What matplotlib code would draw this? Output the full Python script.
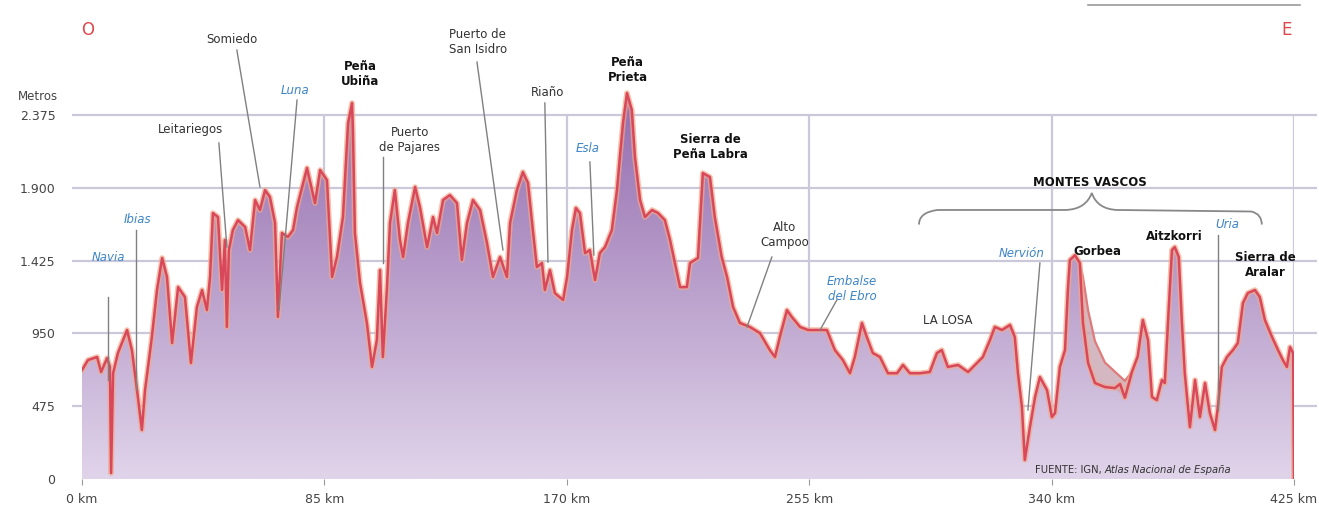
import numpy as np
import matplotlib.pyplot as plt
from matplotlib.patches import Polygon, PathPatch
from matplotlib.path import Path
from matplotlib.lines import Line2D

plt.rcParams['font.family'] = ['DejaVu Sans']

# perfil: distancia (km) y altitud (m)
km = [0, 2.1, 5.3, 6.7, 8.8, 9.8, 10.2, 10.9, 12.6, 15.8, 17.5, 19.3, 21.0, 22.1,
      24.5, 26.3, 28.1, 29.8, 31.6, 33.7, 36.1, 38.2, 40.3, 42.1, 43.8, 44.9, 45.9,
      47.7, 49.1, 50.1, 50.8, 51.5, 52.9, 54.7, 57.2, 58.9, 60.7, 62.4, 64.2, 65.9,
      67.7, 68.7, 70.1, 72.2, 74.0, 75.4, 78.9, 81.7, 83.5, 85.9, 87.7, 89.4, 91.5,
      93.3, 94.7, 95.0, 95.7, 97.5, 99.9, 101.7, 103.4, 104.5, 105.5, 106.9, 108.0,
      109.7, 111.5, 112.6, 114.3, 116.8, 118.5, 121.0, 123.1, 124.5, 126.6, 129.0,
      131.5, 133.2, 135.0, 137.1, 139.6, 142.0, 144.1, 146.6, 149.0, 150.1, 152.5,
      154.6, 156.4, 158.1, 159.5, 161.3, 162.3, 164.1, 165.8, 168.7, 170.1, 171.8,
      173.2, 174.6, 176.4, 178.1, 179.9, 181.6, 183.4, 185.8, 187.6, 188.6, 189.7,
      191.1, 192.8, 193.9, 195.7, 197.4, 199.9, 202.0, 204.4, 206.2, 207.9, 209.7,
      212.1, 213.2, 216.0, 217.7, 220.2, 221.9, 224.3, 226.2, 228.3, 230.7, 234.2,
      237.7, 241.2, 243.0, 244.7, 247.2, 248.9, 251.8, 254.6, 258.8, 261.2, 264.0,
      266.8, 269.3, 271.0, 273.5, 275.2, 277.3, 279.8, 282.6, 285.8, 287.9, 290.3,
      293.8, 297.3, 299.8, 301.5, 303.6, 307.2, 310.7, 313.8, 315.9, 318.4, 320.1,
      322.6, 325.4, 327.1, 328.2, 329.6, 330.6, 332.4, 334.2, 335.9, 338.4, 340.1,
      341.2, 342.9, 344.7, 345.7, 346.4, 348.2, 349.9, 351.0, 352.8, 355.2, 358.7,
      362.2, 364.0, 365.7, 368.2, 370.2, 372.0, 373.8, 375.2, 376.9, 378.7, 379.7,
      380.8, 382.2, 383.2, 384.6, 385.7, 386.7, 388.5, 390.3, 392.0, 393.8, 395.5,
      397.3, 398.3, 399.7, 401.5, 403.6, 405.3, 407.1, 408.8, 411.3, 413.0, 414.8,
      417.3, 419.4, 421.1, 422.5, 423.6, 424.7, 425.0]
alt = [711, 776, 796, 698, 789, 731, 39, 690, 822, 972, 841, 580, 320, 580,
       926, 1233, 1442, 1318, 887, 1252, 1187, 757, 1122, 1233, 1102, 1318, 1735,
       1709, 1233, 1559, 992, 1494, 1624, 1689, 1644, 1494, 1820, 1755, 1885, 1840,
       1670, 1057, 1605, 1579, 1624, 1774, 2029, 1800, 2016, 1950, 1318, 1448, 1709,
       2322, 2453, 2277, 1605, 1278, 1018, 731, 907, 1363, 796, 1233, 1670,
       1885, 1559, 1448, 1670, 1905, 1774, 1513, 1709, 1605, 1820, 1852,
       1800, 1429, 1670, 1820, 1755, 1540, 1318, 1448, 1318, 1670, 1885,
       2003, 1931, 1624, 1383, 1409, 1233, 1363, 1213, 1168, 1318, 1624,
       1768, 1735, 1474, 1494, 1298, 1474, 1513, 1624, 1885, 2100, 2322,
       2518, 2407, 2100, 1820, 1709, 1755, 1735, 1689, 1559, 1409, 1252,
       1252, 1409, 1442, 1996, 1970, 1709, 1450, 1318, 1122, 1018, 992,
       952, 841, 796, 926, 1102, 1057, 992, 972, 972, 972, 841,
       776, 690, 796, 1018, 926, 822, 796, 690, 690, 744, 690,
       690, 698, 822, 841, 731, 744, 698, 757, 796, 907, 992,
       972, 1005, 926, 690, 470, 124, 339, 535, 665, 580, 404,
       430, 731, 841, 1233, 1429, 1460, 1409, 1018, 757, 626, 600,
       593, 620, 530, 700, 800, 1037, 907, 535, 515, 646, 626,
       1018, 1494, 1513, 1448, 1018, 690, 339, 646, 404, 626, 430,
       320, 470, 731, 796, 841, 887, 1148, 1213, 1233, 1187, 1037,
       926, 841, 776, 731, 861, 822, 0]

# segunda línea (Gorbea)
km_gorbea = [349.9, 351.0, 352.8, 355.2, 358.7, 362.2, 365.7, 368.2]
alt_gorbea = [1409, 1318, 1100, 900, 760, 700, 640, 700]

ytick_vals = [0, 475, 950, 1425, 1900, 2375]
ytick_labels = ['0', '475', '950', '1.425', '1.900', '2.375']
xtick_vals = [0, 85, 170, 255, 340, 425]
xtick_labels = ['0 km', '85 km', '170 km', '255 km', '340 km', '425 km']

fig = plt.figure(figsize=(13.19, 5.08), dpi=100)
ax = fig.add_axes([82 / 1319, 29 / 508, 1212 / 1319, 475.2 / 508])
ax.set_xlim(0, 425)
ax.set_ylim(0, 3100)
for s in ax.spines.values():
    s.set_visible(False)

gridc = '#cbc8da'
ax.hlines(ytick_vals[1:], -3.5, 433, color=gridc, lw=1.6, zorder=0, clip_on=False)
ax.vlines(xtick_vals[1:], 0, 2375, color=gridc, lw=1.6, zorder=0)

# relleno degradado
poly = Polygon(list(zip(km, alt)) + [(425, 0), (0, 0)], closed=True,
               facecolor='none', edgecolor='none')
ax.add_patch(poly)
grad = np.linspace(0, 1, 256).reshape(-1, 1)
bottom = np.array([224, 212, 234]) / 255
top = np.array([145, 104, 172]) / 255
img = bottom + (top - bottom) * grad[:, :, None]
im = ax.imshow(img, extent=(0, 425, 0, 2600), origin='lower', aspect='auto', zorder=1)
im.set_clip_path(poly)

ax.fill_between(km_gorbea, alt_gorbea,
                np.interp(km_gorbea, km, alt), color='#c9a6b3', alpha=0.8, zorder=1.5, lw=0)
ax.plot(km_gorbea, alt_gorbea, color='#e07a7a', lw=1.6, zorder=2)

ax.plot(km, alt, color='#f2a98a', lw=4.0, alpha=0.7, zorder=2, solid_joinstyle='round')
ax.plot(km, alt, color='#d9475b', lw=1.8, zorder=3, solid_joinstyle='round')

ax.set_yticks(ytick_vals)
ax.set_yticklabels(ytick_labels)
ax.set_xticks(xtick_vals)
ax.set_xticklabels(xtick_labels)
ax.tick_params(axis='y', length=0, pad=19, labelsize=9, labelcolor='#444444')
ax.tick_params(axis='x', length=4, color='#999999', pad=6, labelsize=9, labelcolor='#444444')

ax.text(-22.4, 2498, 'Metros', fontsize=8.5, color='#444444', ha='left', va='center')
ax.text(2.1, 2929, 'O', fontsize=12, color='#e0474c', ha='center', va='center')
ax.text(422.5, 2929, 'E', fontsize=12, color='#e0474c', ha='center', va='center')

lead = '#808080'
blue = '#3d84c6'
labels = [
    ('Navia', 9.1, 1442, blue, 'normal', 'italic', (9.1, 1187), (9.1, 646)),
    ('Ibias', 19.6, 1690, blue, 'normal', 'italic', (18.8, 1624), (18.8, 580)),
    ('Leitariegos', 37.9, 2277, '#333333', 'normal', 'normal', (48.0, 2192), (50.8, 1513)),
    ('Somiedo', 52.6, 2864, '#333333', 'normal', 'normal', (54.3, 2798), (62.4, 1905)),
    ('Luna', 74.7, 2537, blue, 'normal', 'italic', (75.4, 2472), (69.1, 1102)),
    ('Peña\nUbiña', 97.5, 2642, '#111111', 'bold', 'normal', None, None),
    ('Puerto\nde Pajares', 115.0, 2211, '#333333', 'normal', 'normal', (105.5, 2100), (105.5, 1409)),
    ('Puerto de\nSan Isidro', 138.8, 2851, '#333333', 'normal', 'normal', (138.5, 2720), (147.6, 1494)),
    ('Riaño', 163.4, 2524, '#333333', 'normal', 'normal', (162.3, 2453), (163.4, 1415)),
    ('Esla', 177.4, 2159, blue, 'normal', 'italic', (178.1, 2068), (179.5, 1461)),
    ('Peña\nPrieta', 191.4, 2668, '#111111', 'bold', 'normal', None, None),
    ('Sierra de\nPeña Labra', 220.2, 2166, '#111111', 'bold', 'normal', None, None),
    ('Alto\nCampoo', 246.5, 1592, '#333333', 'normal', 'normal', (241.9, 1448), (233.2, 992)),
    ('Embalse\ndel Ebro', 270.0, 1239, blue, 'normal', 'italic', (264.7, 1168), (258.8, 972)),
    ('LA LOSA', 303.6, 1037, '#333333', 'normal', 'normal', None, None),
    ('MONTES VASCOS', 353.4, 1931, '#111111', 'bold', 'normal', None, None),
    ('Nervión', 329.6, 1474, blue, 'normal', 'italic', (335.9, 1409), (331.7, 450)),
    ('Gorbea', 355.9, 1481, '#111111', 'bold', 'normal', None, None),
    ('Aitzkorri', 383.2, 1579, '#111111', 'bold', 'normal', None, None),
    ('Uria', 401.5, 1657, blue, 'normal', 'italic', (398.3, 1592), (398.3, 450)),
    ('Sierra de\nAralar', 415.1, 1396, '#111111', 'bold', 'normal', None, None),
]
for txt, x, y, c, w, st, p0, p1 in labels:
    ax.text(x, y, txt, color=c, fontsize=8.5, fontweight=w, fontstyle=st,
            ha='center', va='center', linespacing=1.2, zorder=5)
    if p0 is not None:
        ax.plot([p0[0], p1[0]], [p0[1], p1[1]], color=lead, lw=1.0, zorder=4)

# llave de Montes Vascos
verts = [(293.5, 1660), (293.5, 1740), (300, 1755), (345, 1755),
         (352, 1760), (354.1, 1866),
         (356, 1760), (363, 1755), (410, 1745),
         (413.7, 1730), (413.7, 1660)]
codes = [Path.MOVETO, Path.CURVE3, Path.CURVE3, Path.LINETO,
         Path.CURVE3, Path.CURVE3,
         Path.CURVE3, Path.CURVE3, Path.LINETO,
         Path.CURVE3, Path.CURVE3]
ax.add_patch(PathPatch(Path(verts, codes), facecolor='none', edgecolor='#888888', lw=1.3, zorder=4))

fuente = ax.text(334.2, 59, 'FUENTE: IGN, ', fontsize=7.2, color='#333333',
                 ha='left', va='center', zorder=5)
ax.annotate('Atlas Nacional de España', xy=(1, 0.5), xycoords=fuente,
            fontsize=7.2, color='#333333', fontstyle='italic', ha='left', va='center', zorder=5)

# línea fina arriba a la derecha
fig.add_artist(Line2D([1088 / 1319, 1300 / 1319], [503 / 508, 503 / 508],
                      color='#9a9a9a', lw=1.2))

fig.savefig('out.png', dpi=100)
